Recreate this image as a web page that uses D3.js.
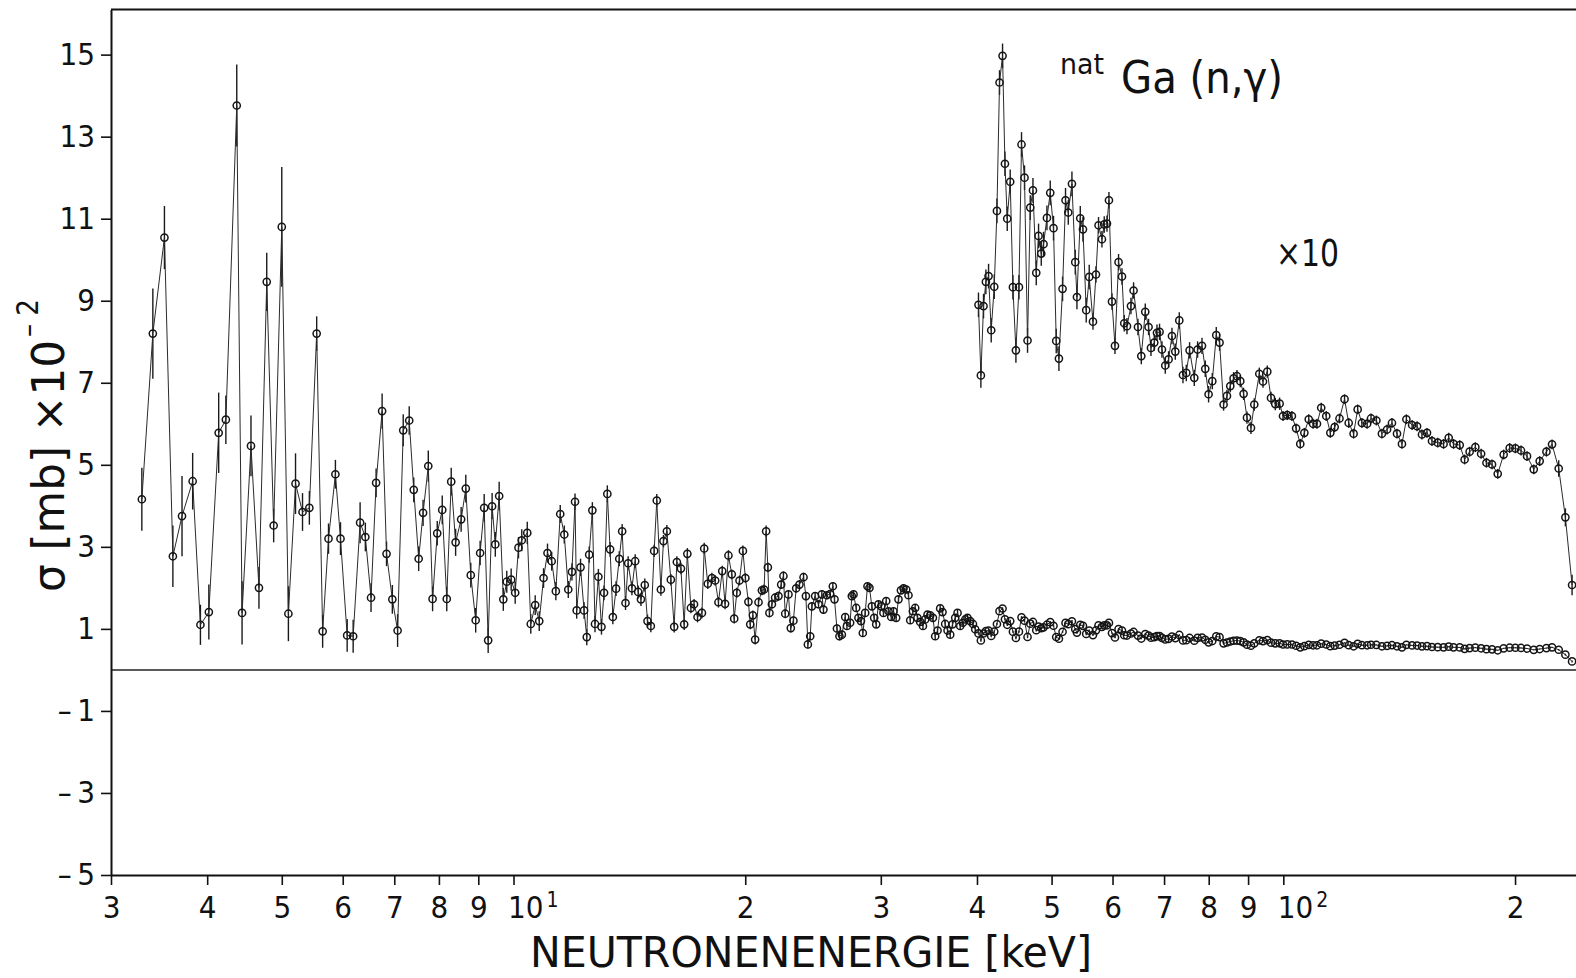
<!DOCTYPE html>
<html>
<head>
<meta charset="utf-8">
<script src="https://cdn.jsdelivr.net/npm/d3@7"></script>
<style>
  html, body { margin: 0; padding: 0; background: #fff; }
  svg { display: block; }
  text { font-family: "Liberation Sans Narrow", "DejaVu Sans Condensed", "Liberation Sans", sans-serif; fill: #111; }
</style>
</head>
<body>
<svg id="chart" width="1576" height="978"></svg>
<script>
// Neutron energy of each measured point [keV]
const energy = [
  3.29,3.40,3.52,3.61,3.71,3.83,3.92,4.02,4.14,4.23,4.37,4.44,4.56,4.67,4.78,4.88,5.00,5.10,5.21,5.32,
  5.43,5.55,5.65,5.75,5.87,5.96,6.08,6.19,6.32,6.42,6.53,6.63,6.75,6.84,6.96,7.07,7.19,7.32,7.42,7.53,
  7.63,7.75,7.85,7.96,8.08,8.19,8.30,
  8.41,8.55,8.67,8.80,8.93,9.05,9.16,9.27,9.38,9.47,9.58,9.70,9.80,9.93,10.05,10.15,10.25,10.42,10.53,10.67,
  10.80,10.94,11.07,11.21,11.35,11.50,11.64,11.78,11.91,12.02,12.08,12.22,12.35,12.45,12.54,12.66,12.76,12.89,13.01,13.11,
  13.24,13.35,13.46,13.59,13.72,13.84,13.98,14.09,14.25,14.39,14.52,14.64,14.81,14.93,15.08,15.23,15.35,15.54,15.66,15.82,
  16.01,16.17,16.30,16.50,16.66,16.82,17.00,17.16,17.34,17.57,17.69,17.88,18.10,18.28,18.46,18.67,18.83,19.02,19.21,19.35,
  19.50,19.66,19.86,20.01,20.19,20.30,20.46,20.60,20.81,21.02,21.16,21.29,21.40,21.50,21.66,21.87,22.09,22.27,22.42,22.54,
  22.76,22.92,23.10,23.29,23.52,
  23.81,23.98,24.12,24.29,24.41,24.65,24.90,25.15,25.27,25.53,25.78,25.99,26.12,26.31,26.51,26.70,26.97,27.11,27.37,27.51,
  27.65,27.87,28.06,28.27,28.43,28.63,28.83,29.00,29.21,29.41,29.59,29.79,30.04,30.24,30.49,30.70,30.95,31.16,31.41,31.63,
  31.86,32.11,32.37,32.59,32.76,33.02,33.25,33.48,33.75,34.03,34.26,34.50,34.78,35.06,35.30,35.55,35.83,36.08,36.37,36.63,
  36.92,37.18,37.48,37.74,38.04,38.35,38.62,38.88,39.20,39.52,39.79,
  40.18,40.47,40.79,41.08,41.41,41.74,42.12,42.46,42.79,43.18,43.49,43.79,44.18,44.54,44.94,45.35,45.70,46.11,46.53,46.91,
  47.29,47.76,48.09,48.48,48.81,49.31,49.80,50.29,50.70,51.11,51.67,52.13,52.56,53.14,53.67,53.94,54.48,54.92,55.46,55.96,
  56.59,57.10,57.54,58.13,58.53,59.01,59.36,59.90,60.44,61.09,61.72,62.14,62.65,63.40,63.90,64.74,65.39,66.17,66.83,67.31,
  67.98,68.53,69.06,69.56,70.25,70.95,71.67,72.39,73.26,74.07,74.81,75.55,76.62,77.38,78.41,79.18,79.97,80.86,81.83,82.64,
  83.64,84.49,85.33,86.18,87.06,87.92,88.80,89.70,90.78,91.68,93.07,94.10,95.32,96.38,97.63,98.90,99.91,101.2,102.6,103.9,
  105.2,106.5,107.9,109.3,110.6,112.0,113.7,115.1,116.6,118.3,120.1,121.6,123.4,124.9,126.5,128.5,130.0,132.1,134.3,136.4,
  138.4,140.5,142.6,144.5,147.0,149.2,151.4,153.7,156.0,158.7,161.5,164.0,166.4,169.5,172.0,174.6,177.6,180.7,183.6,186.7,
  189.9,193.3,196.8,200.2,203.6,207.3,211.5,215.3,219.7,223.4,227.9,232.5,237.2
];

// Capture cross section, in units of 10^-2 mb
const sigma = [
  4.16,8.2,10.54,2.77,3.75,4.6,1.1,1.41,5.78,6.1,13.76,1.39,5.46,2.0,9.46,3.52,10.8,1.37,4.54,3.85,
  3.95,8.2,0.94,3.2,4.77,3.2,0.84,0.82,3.59,3.24,1.76,4.56,6.31,2.83,1.72,0.96,5.84,6.08,4.39,2.71,
  3.83,4.97,1.73,3.33,3.9,1.73,4.59,
  3.11,3.67,4.42,2.31,1.21,2.85,3.95,0.72,3.99,3.06,4.24,1.72,2.15,2.2,1.88,2.98,3.16,3.34,1.12,1.58,
  1.19,2.24,2.85,2.65,1.92,3.8,3.3,1.96,2.39,4.1,1.45,2.5,1.45,0.8,2.81,3.89,1.12,2.27,1.05,1.88,
  4.29,2.94,1.29,1.98,2.71,3.38,1.63,2.6,1.99,2.65,1.9,1.72,2.07,1.19,1.07,2.9,4.13,1.96,3.14,3.38,
  2.2,1.05,2.63,2.47,1.11,2.83,1.51,1.6,1.29,1.39,2.96,2.1,2.24,2.18,1.65,2.41,1.61,2.79,2.33,1.25,
  1.88,2.18,2.9,2.24,1.66,1.11,1.33,0.74,1.65,1.94,1.96,3.38,2.5,1.39,1.6,1.76,1.8,2.08,2.29,1.37,
  1.84,1.02,1.2,1.99,2.08,
  2.26,1.8,0.62,0.82,1.55,1.8,1.6,1.84,1.47,1.82,1.85,2.04,1.72,1.01,0.82,0.86,1.29,1.07,1.15,1.8,
  1.84,1.51,1.27,1.19,0.9,1.39,2.04,2.0,1.55,1.27,1.11,1.6,1.55,1.39,1.68,1.43,1.29,1.43,1.27,1.72,
  1.94,1.99,1.96,1.82,1.21,1.43,1.51,1.27,1.17,1.07,1.23,1.35,1.33,1.27,0.82,0.96,1.5,1.41,1.12,0.96,
  0.86,1.11,1.27,1.39,1.07,1.15,1.23,1.27,1.19,1.12,0.99,
  0.890,0.718,0.887,0.946,0.960,0.828,0.934,1.119,1.432,1.497,1.234,1.100,1.190,0.933,0.779,0.933,1.281,1.200,0.803,1.127,
  1.169,0.968,1.058,1.015,1.038,1.102,1.163,1.077,0.802,0.759,0.929,1.145,1.115,1.185,0.994,0.909,1.101,1.074,0.877,0.958,
  0.849,0.964,1.084,1.050,1.086,1.088,1.145,0.898,0.790,0.994,0.959,0.845,0.838,0.887,0.925,0.836,0.765,0.873,0.836,0.785,
  0.798,0.822,0.824,0.781,0.742,0.757,0.814,0.776,0.852,0.719,0.724,0.779,0.712,0.781,0.790,0.734,0.672,0.704,0.816,0.798,
  0.647,0.668,0.692,0.711,0.716,0.704,0.673,0.615,0.590,0.647,0.722,0.703,0.727,0.663,0.648,0.649,0.619,0.621,0.619,0.589,
  0.551,0.578,0.611,0.600,0.600,0.639,0.619,0.578,0.592,0.613,0.660,0.602,0.576,0.635,0.602,0.600,0.613,0.608,0.576,0.586,
  0.602,0.576,0.551,0.611,0.597,0.594,0.574,0.578,0.558,0.554,0.551,0.566,0.551,0.548,0.513,0.532,0.543,0.527,0.505,0.501,
  0.478,0.525,0.541,0.540,0.535,0.521,0.489,0.509,0.532,0.550,0.491,0.372,0.207
];

// Statistical uncertainty of each point, same units
const sigmaErr = [
  0.77,1.1,0.77,0.75,0.98,0.69,0.49,0.67,0.98,0.59,1.0,0.77,0.74,0.51,0.71,0.41,1.46,0.67,0.74,0.46,
  0.41,0.42,0.4,0.37,0.35,0.4,0.4,0.4,0.5,0.35,0.35,0.35,0.43,0.3,0.35,0.4,0.39,0.35,0.3,0.3,
  0.32,0.38,0.3,0.3,0.35,0.3,0.34,
  0.33,0.3,0.34,0.3,0.3,0.3,0.34,0.31,0.32,0.3,0.35,0.28,0.27,0.27,0.27,0.26,0.27,0.27,0.24,0.24,
  0.24,0.24,0.23,0.23,0.22,0.22,0.22,0.21,0.21,0.2,0.2,0.21,0.2,0.2,0.2,0.2,0.2,0.19,0.19,0.18,
  0.21,0.18,0.18,0.18,0.18,0.18,0.17,0.17,0.17,0.17,0.16,0.16,0.16,
  0.16,0.15,0.15,0.16,0.15,0.15,0.15,0.14,0.14,0.14,0.14,0.14,0.14,0.13,0.13,0.13,0.13,0.14,0.13,0.13,
  0.13,0.13,0.13,0.13,0.13,0.12,0.12,0.12,0.12,0.13,0.12,0.12,0.12,0.12,0.12,0.12,0.12,0.12,0.14,0.12,
  0.11,0.11,0.11,0.11,0.11,0.11,0.11,0.11,0.11,0.11,0.11,0.11,
  0.11,0.1,0.1,0.1,0.1,0.1,0.1,0.1,0.1,0.1,0.1,0.1,0.1,0.1,0.1,0.1,0.1,0.1,0.1,0.1,
  0.09,0.09,0.09,0.09,0.09,0.09,0.09,0.09,0.09,0.09,0.09,0.09,0.09,0.09,0.09,0.09,0.09,0.09,0.09,0.09,
  0.09,0.09,0.09,0.09,0.09,0.09,0.09,0.09,0.09,0.09,0.08,0.08,0.08,0.08,0.08,0.08,0.08,0.08,0.08,0.08,
  0.08,0.08,0.08,0.08,0.08,0.08,0.08,0.08,0.08,0.08,0.08,
  0.03,0.03,0.03,0.03,0.03,0.03,0.03,0.03,0.03,0.03,0.03,0.03,0.03,0.03,0.03,0.03,0.03,0.03,0.03,0.03,
  0.03,0.03,0.03,0.03,0.03,0.03,0.03,0.03,0.03,0.03,0.03,0.03,0.03,0.03,0.03,0.03,0.03,0.03,0.03,0.03,
  0.02,0.02,0.02,0.02,0.02,0.02,0.02,0.02,0.02,0.02,0.02,0.02,0.02,0.02,0.02,0.02,0.02,0.02,0.02,0.02,
  0.02,0.02,0.02,0.02,0.02,0.02,0.02,0.02,0.02,0.02,0.02,0.02,0.02,0.02,0.02,0.02,0.02,0.02,0.02,0.02,
  0.015,0.015,0.015,0.015,0.015,0.015,0.015,0.015,0.015,0.015,0.015,0.015,0.015,0.015,0.015,0.015,0.012,0.012,0.012,0.012,
  0.012,0.012,0.012,0.012,0.012,0.012,0.012,0.012,0.012,0.012,0.012,0.012,0.012,0.012,0.012,0.012,0.012,0.012,0.012,0.012,
  0.012,0.012,0.012,0.012,0.012,0.012,0.012,0.012,0.012,0.012,0.012,0.012,0.012,0.012,0.012,0.012,0.012,0.012,0.012,0.012,
  0.012,0.012,0.012,0.012,0.012,0.012,0.012,0.012,0.012,0.012,0.02,0.022,0.025
];

// Axis ticks
const yTickValues = [-5, -3, -1, 1, 3, 5, 7, 9, 11, 13, 15];
const xTickValues = [3, 4, 5, 6, 7, 8, 9, 10, 20, 30, 40, 50, 60, 70, 80, 90, 100, 200];
const xTickLabels = ["3", "4", "5", "6", "7", "8", "9", "10^1", "2", "3", "4", "5", "6", "7", "8", "9", "10^2", "2"];

// Above this energy the data are repeated magnified by scaleFactor
const magnifiedFrom = 40;
const scaleFactor = 10;

const svg = d3.select("#chart");
const plotLeft = 111, plotRight = 1576, plotTop = 9.5, plotBottom = 875;

const x = d3.scaleLog().domain([3, 240]).range([plotLeft, plotRight]);
const y = d3.scaleLinear().domain([-5, 16.1]).range([plotBottom, plotTop]);

const points = energy.map((e, i) => ({ e, s: sigma[i], err: sigmaErr[i] }));
const magnified = points
  .filter(p => p.e >= magnifiedFrom)
  .map(p => ({ e: p.e, s: p.s * scaleFactor, err: p.err * scaleFactor }));

// frame: top border and zero line
svg.append("line")
  .attr("x1", plotLeft).attr("x2", plotRight).attr("y1", plotTop).attr("y2", plotTop)
  .attr("stroke", "#111").attr("stroke-width", 2);
svg.append("line")
  .attr("x1", plotLeft).attr("x2", plotRight).attr("y1", y(0)).attr("y2", y(0))
  .attr("stroke", "#222").attr("stroke-width", 1.5);

// y axis
const yAxis = d3.axisLeft(y)
  .tickValues(yTickValues)
  .tickSize(10).tickSizeOuter(0).tickPadding(6)
  .tickFormat(d => d < 0 ? "\u2013\u2009" + Math.abs(d) : String(d));
const gy = svg.append("g").attr("transform", `translate(${plotLeft},0)`).call(yAxis);
gy.select(".domain").attr("stroke", "#111").attr("stroke-width", 2);
gy.selectAll(".tick line").attr("stroke", "#111").attr("stroke-width", 1.6);
gy.selectAll(".tick text").attr("font-size", 31).attr("fill", "#111");

// x axis (log)
const gx = svg.append("g").attr("transform", `translate(0,${plotBottom})`)
  .call(d3.axisBottom(x).tickValues(xTickValues).tickSize(10).tickSizeOuter(0).tickPadding(11).tickFormat(""));
gx.select(".domain").attr("stroke", "#111").attr("stroke-width", 2);
gx.selectAll(".tick line").attr("stroke", "#111").attr("stroke-width", 1.6);
gx.selectAll(".tick").each(function (d, i) {
  const lab = xTickLabels[i];
  const t = d3.select(this).select("text")
    .attr("font-size", 31).attr("fill", "#111").attr("y", 21).attr("dy", "0.71em");
  if (lab.includes("^")) {
    const [base, exp] = lab.split("^");
    t.attr("text-anchor", "start").attr("x", -6);
    t.append("tspan").text(base);
    t.append("tspan").attr("font-size", 21).attr("dx", 3).attr("dy", -11).text(exp);
  } else {
    t.text(lab);
  }
});

// one data series: error bars, connecting line, open circle markers
function drawSeries(data) {
  const g = svg.append("g");
  g.selectAll("line").data(data).join("line")
    .attr("x1", d => x(d.e)).attr("x2", d => x(d.e))
    .attr("y1", d => y(d.s - d.err)).attr("y2", d => y(d.s + d.err))
    .attr("stroke", "#1a1a1a").attr("stroke-width", 1.4);
  g.append("path").datum(data)
    .attr("d", d3.line().x(d => x(d.e)).y(d => y(d.s)))
    .attr("fill", "none").attr("stroke", "#2a2a2a").attr("stroke-width", 1);
  g.selectAll("circle").data(data).join("circle")
    .attr("cx", d => x(d.e)).attr("cy", d => y(d.s)).attr("r", 3.6)
    .attr("fill", "none").attr("stroke", "#141414").attr("stroke-width", 1.5);
}
drawSeries(points);
drawSeries(magnified);

// axis titles
svg.append("text")
  .attr("x", 530).attr("y", 967)
  .attr("font-size", 42).attr("textLength", 562).attr("lengthAdjust", "spacingAndGlyphs")
  .text("NEUTRONENENERGIE [keV]");

svg.append("text")
  .attr("transform", "translate(64,592) rotate(-90)")
  .attr("font-size", 45).attr("textLength", 252).attr("lengthAdjust", "spacingAndGlyphs")
  .text("\u03c3 [mb] \u00d710");
svg.append("text")
  .attr("transform", "translate(38,337) rotate(-90)")
  .attr("font-size", 30).attr("textLength", 38).attr("lengthAdjust", "spacingAndGlyphs")
  .text("\u2013 2");

// reaction label and magnification note
svg.append("text").attr("x", 1060).attr("y", 74).attr("font-size", 28)
  .attr("textLength", 44).attr("lengthAdjust", "spacingAndGlyphs").text("nat");
svg.append("text").attr("x", 1121).attr("y", 93).attr("font-size", 44)
  .attr("textLength", 162).attr("lengthAdjust", "spacingAndGlyphs").text("Ga (n,\u03b3)");
svg.append("text").attr("x", 1276).attr("y", 266).attr("font-size", 38)
  .attr("textLength", 63).attr("lengthAdjust", "spacingAndGlyphs").text("\u00d710");
</script>
</body>
</html>
